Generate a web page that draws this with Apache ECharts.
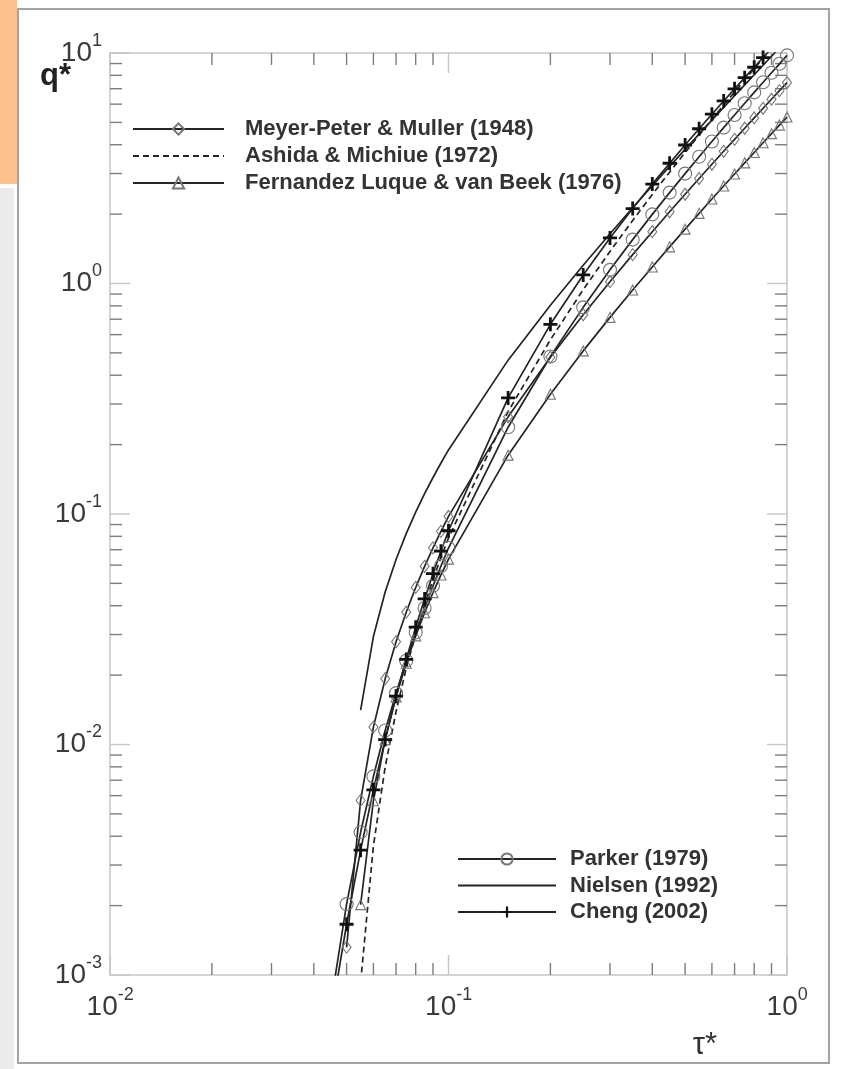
<!DOCTYPE html>
<html><head><meta charset="utf-8">
<script src="https://cdn.jsdelivr.net/npm/echarts@6/dist/echarts.min.js"></script>
<style>html,body{margin:0;padding:0;background:#fff}#c{width:846px;height:1069px}</style>
</head><body><div id="c"></div>
<script>
// ---- data ----
const tau = [0.045, 0.05, 0.055, 0.06, 0.065, 0.07, 0.075, 0.08, 0.085, 0.09, 0.095, 0.1,
  0.15, 0.2, 0.25, 0.3, 0.35, 0.4, 0.45, 0.5, 0.55, 0.6, 0.65, 0.7, 0.75, 0.8, 0.85, 0.9, 0.95, 1.0];
const mpm = [null, 0.00132, 0.00572, 0.0119, 0.0193, 0.0279, 0.0375, 0.0480, 0.0593, 0.0713, 0.0841, 0.0976,
  0.264, 0.479, 0.732, 1.018, 1.334, 1.678, 2.047, 2.439, 2.854, 3.290, 3.746, 4.221, 4.715, 5.227, 5.757, 6.303, 6.865, 7.443];
const ashida = [null, null, 0.000928, 0.00363, 0.00799, 0.0139, 0.0214, 0.0302, 0.0404, 0.0519, 0.0647, 0.0787,
  0.278, 0.570, 0.940, 1.378, 1.877, 2.433, 3.041, 3.699, 4.403, 5.152, 5.943, 6.774, 7.645, 8.553, 9.497, 10.48, 11.49, 12.54];
const fernandez = [null, null, 0.00202, 0.0057, 0.0105, 0.0161, 0.0225, 0.0296, 0.0373, 0.0456, 0.0544, 0.0637,
  0.180, 0.331, 0.510, 0.713, 0.937, 1.180, 1.442, 1.721, 2.015, 2.325, 2.649, 2.987, 3.338, 3.702, 4.079, 4.467, 4.867, 5.278];
const parker = [0.000762, 0.00203, 0.00416, 0.00727, 0.0115, 0.0167, 0.0231, 0.0306, 0.0391, 0.0488, 0.0595, 0.0712,
  0.238, 0.482, 0.788, 1.146, 1.550, 1.995, 2.479, 2.998, 3.549, 4.132, 4.745, 5.386, 6.054, 6.748, 7.467, 8.210, 8.976, 9.765];
const nielsen = [null, null, 0.0141, 0.0294, 0.0459, 0.0635, 0.0822, 0.1018, 0.1225, 0.144, 0.1664, 0.1897,
  0.465, 0.805, 1.2, 1.643, 2.130, 2.656, 3.220, 3.818, 4.450, 5.112, 5.805, 6.526, 7.275, 8.050, 8.851, 9.677, 10.53, 11.4];
const cheng = [0.000659, 0.00166, 0.00348, 0.00636, 0.0105, 0.0162, 0.0234, 0.0323, 0.0428, 0.0551, 0.0690, 0.0846,
  0.319, 0.665, 1.089, 1.576, 2.114, 2.699, 3.325, 3.990, 4.691, 5.426, 6.193, 6.991, 7.818, 8.674, 9.558, 10.47, 11.40, 12.37];

const seriesNames = ['Meyer-Peter & Muller (1948)', 'Ashida & Michiue (1972)', 'Fernandez Luque & van Beek (1976)',
  'Parker (1979)', 'Nielsen (1992)', 'Cheng (2002)'];

const xMajorTicks = [0.01, 0.1, 1];
const xTickExp = ['-2', '-1', '0'];
const xMinorTicks = [0.02, 0.03, 0.04, 0.05, 0.06, 0.07, 0.08, 0.09, 0.2, 0.3, 0.4, 0.5, 0.6, 0.7, 0.8, 0.9];
const yMajorTicks = [0.001, 0.01, 0.1, 1, 10];
const yTickExp = ['-3', '-2', '-1', '0', '1'];
const yMinorTicks = [0.002, 0.003, 0.004, 0.005, 0.006, 0.007, 0.008, 0.009,
  0.02, 0.03, 0.04, 0.05, 0.06, 0.07, 0.08, 0.09,
  0.2, 0.3, 0.4, 0.5, 0.6, 0.7, 0.8, 0.9,
  2, 3, 4, 5, 6, 7, 8, 9];

// ---- chart ----
const FONT = '"Liberation Sans", Arial, Helvetica, sans-serif';
const LINE = '#242424';
const MARK = '#767676';

function pairs(arr) {
  return tau.map((t, i) => [t, arr[i]]).filter(p => p[1] != null);
}
function fmt(majors, exps) {
  return function (v) {
    const i = majors.findIndex(t => Math.abs(Math.log10(t) - Math.log10(v)) < 1e-6);
    return i < 0 ? '' : '{h| }{b|10}{s|' + exps[i] + '}';
  };
}
const labelRich = {
  h: { fontSize: 1, lineHeight: 35 },
  b: { fontSize: 28, lineHeight: 28, verticalAlign: 'bottom', fontFamily: FONT, color: '#3a3a3a' },
  s: { fontSize: 18, lineHeight: 18, verticalAlign: 'top', fontFamily: FONT, color: '#3a3a3a' }
};

function tickSeries(values, axis, len, color) {
  return {
    type: 'custom', silent: true, z: 1, animation: false,
    data: values.map(v => axis === 'x' ? [v, 1] : [0.1, v]),
    renderItem: function (params, api) {
      const cs = params.coordSys;
      const p = api.coord([api.value(0), api.value(1)]);
      const st = { stroke: color, lineWidth: 1.4 };
      if (axis === 'x') {
        const x = p[0];
        return { type: 'group', children: [
          { type: 'line', shape: { x1: x, y1: cs.y + cs.height, x2: x, y2: cs.y + cs.height - len }, style: st },
          { type: 'line', shape: { x1: x, y1: cs.y, x2: x, y2: cs.y + len }, style: st }
        ]};
      }
      const y = p[1];
      return { type: 'group', children: [
        { type: 'line', shape: { x1: cs.x, y1: y, x2: cs.x + len, y2: y }, style: st },
        { type: 'line', shape: { x1: cs.x + cs.width, y1: y, x2: cs.x + cs.width - len, y2: y }, style: st }
      ]};
    }
  };
}

function lineSeries(name, arr, extra) {
  return Object.assign({
    name: name, type: 'line', data: pairs(arr), z: 3, animation: false, silent: true,
    clip: true, emphasis: { disabled: true },
    lineStyle: { color: LINE, width: 1.7 },
    itemStyle: { color: 'transparent', borderColor: MARK, borderWidth: 1.1 }
  }, extra);
}

const PLUS = 'path://M4,0H6V4H10V6H6V10H4V6H0V4H4Z';

const chart = echarts.init(document.getElementById('c'), null, { renderer: 'canvas' });
chart.setOption({
  animation: false,
  backgroundColor: '#ffffff',
  grid: { left: 110, right: 59, top: 53, bottom: 94, show: true, borderColor: '#c6c6c6', borderWidth: 1.5, backgroundColor: 'transparent' },
  xAxis: {
    type: 'log', logBase: 10, min: 0.01, max: 1,
    axisLine: { show: false }, axisTick: { show: false }, splitLine: { show: false }, minorTick: { show: false },
    axisLabel: { margin: 11, formatter: fmt(xMajorTicks, xTickExp), rich: labelRich, showMinLabel: true, showMaxLabel: true }
  },
  yAxis: {
    type: 'log', logBase: 10, min: 0.001, max: 10,
    axisLine: { show: false }, axisTick: { show: false }, splitLine: { show: false }, minorTick: { show: false },
    axisLabel: { margin: 8, padding: [0, 0, 7, 0], formatter: fmt(yMajorTicks, yTickExp), rich: labelRich, showMinLabel: true, showMaxLabel: true }
  },
  legend: [
    {
      data: seriesNames.slice(0, 3), orient: 'vertical', left: 127, top: 113,
      itemWidth: 91, itemHeight: 14, itemGap: 5, selectedMode: false,
      textStyle: { fontFamily: FONT, fontSize: 22, fontWeight: 'bold', color: '#333', padding: [0, 0, 0, 16], lineHeight: 22 }
    },
    {
      data: seriesNames.slice(3, 6), orient: 'vertical', left: 452, top: 843,
      itemWidth: 98, itemHeight: 14, itemGap: 4.5, selectedMode: false,
      textStyle: { fontFamily: FONT, fontSize: 22, fontWeight: 'bold', color: '#333', padding: [0, 0, 0, 9], lineHeight: 22 }
    }
  ],
  graphic: [
    { type: 'rect', silent: true, z: -10, shape: { x: 0, y: 0, width: 17, height: 184 }, style: { fill: '#fbc08c' } },
    { type: 'rect', silent: true, z: -10, shape: { x: 0, y: 188, width: 14, height: 881 }, style: { fill: '#ebebeb' } },
    { type: 'rect', silent: true, z: -5, shape: { x: 18, y: 9, width: 811, height: 1054 }, style: { fill: 'none', stroke: '#a3a3a3', lineWidth: 2 } },
    { type: 'text', silent: true, x: 40, y: 76, style: { text: 'q*', font: 'bold 31px ' + FONT, fill: '#222', verticalAlign: 'middle' } },
    { type: 'text', silent: true, x: 705, y: 1045, style: { text: 'τ*', font: '31px ' + FONT, fill: '#333', align: 'center', verticalAlign: 'middle' } }
  ],
  series: [
    tickSeries(xMinorTicks, 'x', 12, '#7d7d7d'),
    tickSeries(xMajorTicks, 'x', 20, '#c6c6c6'),
    tickSeries(yMinorTicks, 'y', 12, '#7d7d7d'),
    tickSeries(yMajorTicks, 'y', 20, '#c6c6c6'),
    lineSeries(seriesNames[0], mpm, { symbol: 'diamond', symbolSize: [9, 12] }),
    lineSeries(seriesNames[1], ashida, { symbol: 'none', lineStyle: { color: LINE, width: 1.7, type: [6, 4] },
      itemStyle: { color: 'transparent', borderColor: 'transparent', borderWidth: 0 } }),
    lineSeries(seriesNames[2], fernandez, { symbol: 'triangle', symbolSize: 10 }),
    lineSeries(seriesNames[3], parker, { symbol: 'circle', symbolSize: 13 }),
    lineSeries(seriesNames[4], nielsen, { symbol: 'none',
      itemStyle: { color: 'transparent', borderColor: 'transparent', borderWidth: 0 } }),
    lineSeries(seriesNames[5], cheng, { symbol: PLUS, symbolSize: 14, itemStyle: { color: '#111', borderWidth: 0 } })
  ]
});
</script>
</body></html>
